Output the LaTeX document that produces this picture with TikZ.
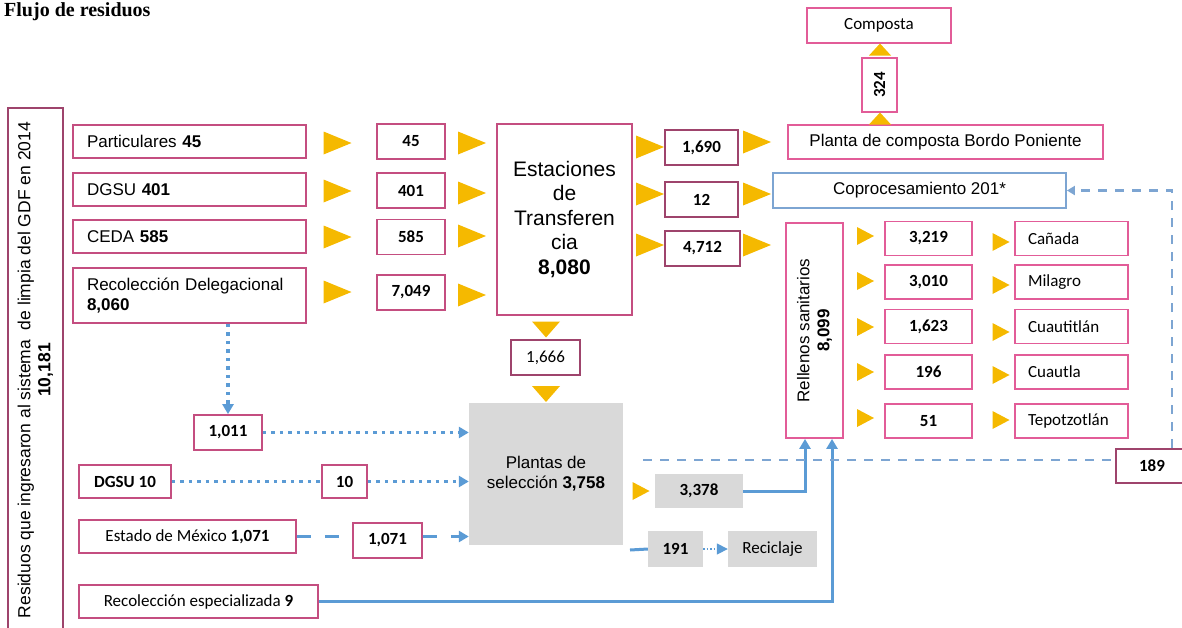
\documentclass[tikz,border=0pt]{standalone}
\usepackage{fontspec}
\setmainfont{Liberation Sans}
\newfontfamily\cb{Carlito}
\newfontfamily\tser{Liberation Serif}
\usetikzlibrary{arrows.meta,calc}
\definecolor{pk}{RGB}{196,78,128}
\definecolor{pkd}{RGB}{158,68,108}
\definecolor{pkl}{RGB}{226,92,152}
\definecolor{ylw}{RGB}{245,185,0}
\definecolor{bl}{RGB}{91,155,213}
\definecolor{bll}{RGB}{125,165,210}
\definecolor{gr}{RGB}{217,217,217}
\tikzset{
  x=1pt, y=-1pt,
  box/.style={draw=pk, line width=1.8pt, inner sep=0pt, align=center, fill=white},
  gbox/.style={fill=gr, inner sep=0pt, align=center},
  lbox/.style={box, align=left, inner xsep=14pt},
  arial/.style={font=\fontsize{17}{20}\selectfont},
  cal/.style={font=\cb\fontsize{17}{20}\selectfont},
  calb/.style={font=\cb\bfseries\fontsize{17}{20}\selectfont},
  tip/.style={-{Triangle[length=10pt,width=11pt]}},
  bline/.style={draw=bl, line width=3pt, tip},
  bdot/.style={draw=bl, line width=3.5pt, dash pattern=on 3.5pt off 5pt, tip},
  bdash/.style={draw=bll, line width=2.2pt, dash pattern=on 9pt off 8pt},
  blong/.style={draw=bl, line width=3pt, dash pattern=on 14pt off 14pt},
  pics/rt/.style={code={\fill[ylw] (-14,-11.5) -- (14,0) -- (-14,11.5) -- cycle;}},
  pics/rts/.style={code={\fill[ylw] (-8.5,-9) -- (8.5,0) -- (-8.5,9) -- cycle;}},
  pics/dt/.style={code={\fill[ylw] (-14,-8) -- (14,-8) -- (0,8) -- cycle;}},
  pics/ut/.style={code={\fill[ylw] (-11,6) -- (11,6) -- (0,-6) -- cycle;}},
}
\begin{document}
\begin{tikzpicture}
\useasboundingbox (0,0) rectangle (1182,627);
% title
\node[anchor=base west, inner sep=0pt, font=\tser\bfseries\fontsize{20}{24}\selectfont] (title) at (4,16) {Flujo de residuos};
% left total box
\node[box, draw=pkd, rotate=90, minimum width=524pt, minimum height=55pt, font=\fontsize{17.5}{20}\selectfont] (tot) at (35.5,370) {Residuos que ingresaron al sistema\ \ de limpia del GDF en 2014\\\textbf{10,181}};
% sources
\node[lbox, arial, minimum height=33pt, text width=205pt] (par) at (189.5,141.5) {Particulares \textbf{45}};
\node[lbox, arial, minimum height=33pt, text width=205pt] (dgsu) at (189.5,189.5) {DGSU \textbf{401}};
\node[lbox, arial, minimum height=33pt, text width=205pt] (ceda) at (189.5,236.5) {CEDA \textbf{585}};
\node[lbox, font=\fontsize{17}{19.5}\selectfont, minimum height=55pt, text width=205pt] (rd) at (189.5,295.5) {Recolección Delegacional\\\textbf{8,060}};
\foreach \y in {143,191,237,292} \pic at (337.5,\y) {rt};
% numbers col 2
\node[box, calb, minimum width=68pt, minimum height=35pt] (n45) at (411,141.5) {45};
\node[box, calb, minimum width=68pt, minimum height=35pt] (n401) at (411,190.5) {401};
\node[box, calb, minimum width=68pt, minimum height=35pt] (n585) at (411,237) {585};
\node[box, calb, minimum width=68pt, minimum height=35pt] (n7049) at (411,292.5) {7,049};
\foreach \y in {143,193,236,295} \pic at (472,\y) {rt};
% estaciones
\node[box, font=\fontsize{21}{24.5}\selectfont, minimum width=135pt, minimum height=191pt] (est) at (564.5,219.5) {Estaciones\\de\\Transferen\\cia\\\textbf{8,080}};
\foreach \y in {147,194,245} \pic at (650,\y) {rt};
\node[box, draw=pkd, calb, minimum width=73pt, minimum height=35pt] (n1690) at (701.5,147.5) {1,690};
\node[box, draw=pkd, calb, minimum width=73pt, minimum height=35pt] (n12) at (701.5,199.5) {12};
\node[box, draw=pkd, calb, minimum width=75pt, minimum height=35pt] (n4712) at (702.5,248.5) {4,712};
\foreach \y in {142,194,245} \pic at (757,\y) {rt};
% right top
\node[box, draw=pkl, arial, minimum width=315pt, minimum height=34pt] (pcbp) at (945.5,142) {Planta de composta Bordo Poniente};
\node[box, draw=bll, arial, minimum width=293pt, minimum height=35pt] (copro) at (919.5,190.5) {Coprocesamiento 201*};
\node[box, draw=pkl, cal, minimum width=144pt, minimum height=35pt] (comp) at (879,25.5) {Composta};
\node[box, draw=pkl, calb, rotate=90, minimum width=54pt, minimum height=35pt] (n324) at (879.5,85) {324};
\pic at (880,49.5) {ut};
\pic at (880,118.5) {ut};
% rellenos
\node[box, draw=pkl, rotate=90, font=\fontsize{17}{20}\selectfont, minimum width=215pt, minimum height=57pt] (rell) at (814.5,330.5) {Rellenos sanitarios\\\textbf{8,099}};
\foreach \y in {236,281,327,372,418} \pic at (865.5,\y) {rts};
\node[box, draw=pkl, calb, minimum width=87pt, minimum height=34pt] (r1) at (928.5,238.5) {3,219};
\node[box, draw=pkl, calb, minimum width=87pt, minimum height=34pt] (r2) at (928.5,282) {3,010};
\node[box, draw=pkl, calb, minimum width=87pt, minimum height=34pt] (r3) at (928.5,326.5) {1,623};
\node[box, draw=pkl, calb, minimum width=87pt, minimum height=34pt] (r4) at (928.5,372) {196};
\node[box, draw=pkl, calb, minimum width=87pt, minimum height=34pt] (r5) at (928.5,421) {51};
\foreach \y in {242,285,332,375,420} \pic at (1001,\y) {rts};
\node[box, draw=pkl, cal, align=left, inner xsep=13pt, text width=87pt, minimum height=34pt] (s1) at (1071.5,238.5) {Cañada};
\node[box, draw=pkl, cal, align=left, inner xsep=13pt, text width=87pt, minimum height=34pt] (s2) at (1071.5,282) {Milagro};
\node[box, draw=pkl, cal, align=left, inner xsep=13pt, text width=87pt, minimum height=34pt] (s3) at (1071.5,326.5) {Cuautitlán};
\node[box, draw=pkl, cal, align=left, inner xsep=13pt, text width=87pt, minimum height=34pt] (s4) at (1071.5,372) {Cuautla};
\node[box, draw=pkl, cal, align=left, inner xsep=13pt, text width=87pt, minimum height=34pt] (s5) at (1071.5,421) {Tepotzotlán};
% plantas de seleccion
\pic at (546,329.5) {dt};
\node[box, draw=pkd, cal, minimum width=69pt, minimum height=35pt] (n1666) at (545.5,357.5) {1,666};
\pic at (546,394) {dt};
\node[gbox, arial, minimum width=154pt, minimum height=142pt] (plan) at (546,474) {Plantas de\\selección \textbf{3,758}};
\pic at (641,491) {rts};
\node[gbox, calb, minimum width=88pt, minimum height=34pt] (n3378) at (699,491) {3,378};
\node[gbox, calb, minimum width=55pt, minimum height=36pt] (n191) at (675.5,549) {191};
\node[gbox, cal, minimum width=89pt, minimum height=36pt] (recic) at (772.5,549) {Reciclaje};
% left bottom
\node[box, calb, minimum width=68pt, minimum height=35pt] (n1011) at (228,432.5) {1,011};
\node[box, calb, minimum width=92pt, minimum height=33pt] (dg10) at (125,481.5) {DGSU 10};
\node[box, calb, minimum width=45pt, minimum height=33pt] (n10) at (344.5,481.5) {10};
\node[box, cal, minimum width=217pt, minimum height=33pt] (edo) at (187.5,536.5) {Estado de México \textbf{1,071}};
\node[box, calb, minimum width=69pt, minimum height=35pt] (n1071) at (387.5,540.5) {1,071};
\node[box, cal, minimum width=239pt, minimum height=33pt] (resp) at (198.5,601.5) {Recolección especializada \textbf{9}};
\node[box, draw=pkd, calb, minimum width=72pt, minimum height=34pt] (n189) at (1152,466) {189};
% connectors
\draw[bdot] (rd.south -| n1011.north) -- (n1011.north);
\draw[bdot] (n1011.east) -- (n1011.east -| plan.west);
\draw[bdot, -] (dg10.east) -- (n10.west);
\draw[bdot] (n10.east) -- (n10.east -| plan.west);
\draw[blong] (edo.east) -- (edo.east -| n1071.west);
\draw[blong, tip] (n1071.east |- edo.east) -- (edo.east -| plan.west);
\draw[bline] (n3378.east) -| ([xshift=-9.5pt]rell.west);
\draw[bline] (resp.east) -| ([xshift=17.5pt]rell.west);
\coordinate (d191) at (630,550);
\draw[draw=bl, line width=3pt] (d191) -- (n191.west);
\draw[draw=bl!60, line width=1.5pt, dotted, -{Triangle[length=11pt,width=11pt]}, bl] (n191.east) -- (recic.west);
\coordinate (d0) at (643,460);
\coordinate (vx) at (1172,0);
\draw[bdash] (d0) -- (d0 -| n189.west);
\draw[bdash, -{Triangle[length=8pt,width=9pt]}] (n189.north -| vx) |- (copro.east);
\end{tikzpicture}
\end{document}
